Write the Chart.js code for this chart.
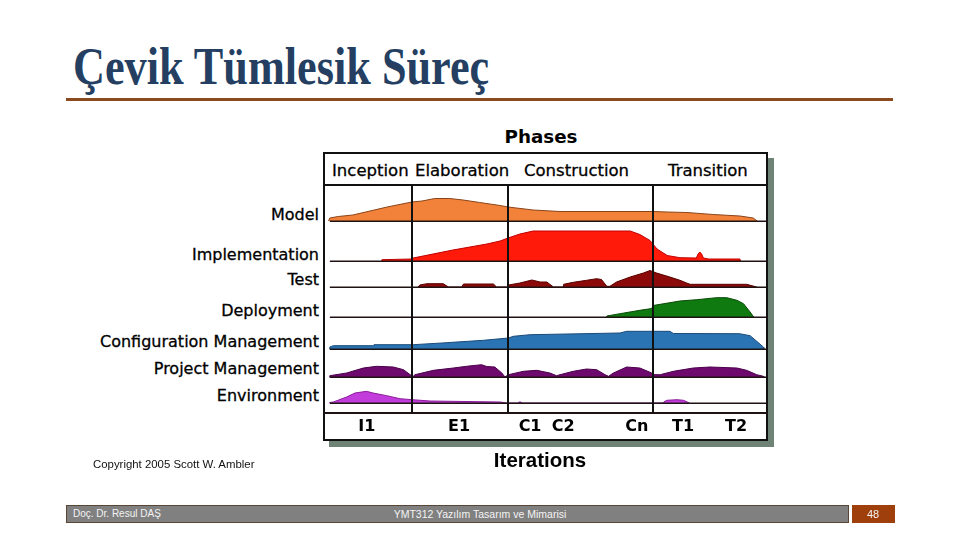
<!DOCTYPE html>
<html><head><meta charset="utf-8">
<script src="https://cdn.jsdelivr.net/npm/chart.js@4.4.0/dist/chart.umd.min.js"></script>
<style>
body{margin:0;background:#fff;}
#page{position:relative;width:960px;height:540px;overflow:hidden;background:#fff;font-family:"DejaVu Sans",sans-serif;color:#000;}
.t{position:absolute;white-space:nowrap;line-height:1;}
.lab{font-size:16px;right:641px;text-align:right;-webkit-text-stroke:0.3px #000;}
.ph{font-size:16.5px;top:163px;-webkit-text-stroke:0.3px #000;}
#frame{position:absolute;left:323px;top:152px;width:445px;height:289px;box-sizing:border-box;border:2px solid #111;background:#fff;box-shadow:6px 6px 0 #6e8276;}
#c{position:absolute;left:0;top:0;}
</style></head>
<body><div id="page">
<div class="t" id="title" style="left:73px;top:41px;font-family:'Liberation Serif',serif;font-weight:bold;font-size:52px;color:#243f62;transform-origin:0 0;">Çevik Tümlesik Süreç</div>
<div style="position:absolute;left:66px;top:98px;width:827px;height:3px;background:#8c4a1f;"></div>

<div id="frame"></div>
<div style="position:absolute;left:324px;top:184px;width:443px;height:2px;background:#111;"></div>
<div class="t" style="left:541px;top:128px;font-size:18.3px;font-weight:bold;transform:translateX(-50%);">Phases</div>
<div id="phaseRow"></div>
<div id="labelCol"></div>

<canvas id="c" width="960" height="540"></canvas>

<div class="t" style="left:540px;top:450px;font-family:'Liberation Sans',Arial,sans-serif;font-weight:bold;font-size:20.5px;transform:translateX(-50%);">Iterations</div>
<div class="t" style="left:93px;top:459px;font-family:'Liberation Sans',Arial,sans-serif;font-size:11.4px;color:#111;">Copyright 2005 Scott W. Ambler</div>

<div style="position:absolute;left:66px;top:505px;width:783px;height:18px;box-sizing:border-box;background:#808080;border:1px solid #5b4636;"></div>
<div class="t" style="left:73px;top:509px;font-family:'Liberation Sans',Arial,sans-serif;font-size:10px;color:#f4f4f4;">Doç. Dr. Resul DAŞ</div>
<div class="t" style="left:480px;top:509px;font-family:'Liberation Sans',Arial,sans-serif;font-size:10.5px;color:#f4f4f4;transform:translateX(-50%);">YMT312 Yazılım Tasarım ve Mimarisi</div>
<div style="position:absolute;left:852px;top:505px;width:43px;height:18px;background:#9f3f0b;"></div>
<div class="t" style="left:873px;top:509px;font-family:'Liberation Sans',Arial,sans-serif;font-size:11px;color:#f4f4f4;transform:translateX(-50%);">48</div>
</div>
<script>
// ---- data ----
const phases = ['Inception', 'Elaboration', 'Construction', 'Transition'];
const phaseBounds = [19.7, 41.5, 74.4];
const iterationLabels = ['I1', 'E1', 'C1', 'C2', 'Cn', 'T1', 'T2'];
const iterationPos = [9.5, 30.4, 46.5, 54.0, 70.7, 81.2, 93.2];
const disciplines = ['Model', 'Implementation', 'Test', 'Deployment', 'Configuration Management', 'Project Management', 'Environment'];

// [time, effort]
const model = [[0.8,0],[1.1,3],[3,4.5],[6.3,6],[14.1,14],[19.7,19],[22,20],[24.9,22.5],[28.3,22.5],[31.3,21],[35.1,18.5],[39.7,15.5],[41.5,14],[47.2,11],[53.3,9.5],[74.4,9.5],[77.6,9],[82.1,8.5],[88,6.5],[94.1,5],[97.1,3],[98,0]];
const implementation = [[12.8,0],[12.9,1.3],[19.7,2],[20,3],[29,11],[36.7,17],[39.7,20],[41.5,23],[44.2,27],[47.2,30],[69.2,30],[71.4,26.5],[73.7,20.5],[75.3,12],[77.6,5.5],[80.5,3.3],[84.2,3],[84.6,7],[85,9],[85.4,7],[85.8,3],[87,2],[94.1,2],[94.2,0]];
const test = [[21.1,0],[21.5,2],[23.1,3.3],[26.8,3.3],[28,0],[31,0],[31.4,3],[38.2,3],[38.9,0],[41.5,0],[41.6,2],[44.2,4],[46.9,7],[48.8,5],[50.3,5],[51.8,0],[54,0],[54.1,2.7],[56.3,4.7],[59.3,6.7],[61.6,8.3],[62.7,7.5],[63.9,0.7],[64.6,0.7],[66.1,5],[69.2,10],[72.2,14],[73.7,16.5],[75.2,14],[78.2,10],[80.5,6.7],[82,4],[82.8,2.7],[95.6,2.7],[97.9,0]];
const deployment = [[63.8,0],[63.9,1],[66.9,3.3],[71.4,6.7],[74.1,8.5],[74.4,11.5],[80.5,16],[84.3,17.3],[88.8,19.3],[91.1,19.3],[93.4,16.7],[94.9,13.3],[96.4,5],[97.1,0.7],[97.3,0]];
const configMgmt = [[1,0],[1.1,2],[1.9,3.3],[11,3.3],[11.1,4.3],[20,4.3],[26.5,6],[35.9,8.7],[41.6,11],[42.7,12.7],[46.5,14.3],[66.9,16],[68.4,17.7],[78.2,17.7],[79,15.5],[94,15.3],[96.4,13.3],[97.9,7.7],[99.4,2],[99.5,0]];
const projectMgmt = [[1,0],[1.1,1.3],[4.9,4],[8.7,9],[11.7,10.7],[15.5,10],[17.8,7.3],[19.3,2.3],[20,0.7],[20.4,2.3],[24.6,6.7],[29.1,9],[32.1,10.7],[35.5,12.3],[36.7,10.5],[38.5,10],[40.1,4],[40.8,0],[41.6,2.3],[45,5.7],[48,6.7],[51,4],[52.5,1.3],[53.3,2.3],[56.3,5.7],[59.3,8],[61.6,7.3],[63.5,2.3],[64.3,0.7],[65.4,4],[68.4,10],[71.4,9],[73.7,4.7],[74.8,2.3],[76,2.3],[79,5.7],[83.5,9],[87.3,10],[93.4,9],[95.6,6.7],[97.9,2.3],[99.4,0.7],[99.5,0]];
const environment = [[1,0],[1.1,0.5],[1.9,1],[4.9,6],[6.8,10],[9.4,11.7],[10.9,10],[14,7.3],[17,4.3],[19.8,3.3],[23.8,2],[39.7,1],[41.2,0],[43.7,0],[44,1],[44.4,1],[44.7,0],[76.6,0],[76.8,1],[77.5,2.7],[79.8,3.3],[81.3,2.7],[82.4,0.5],[82.5,0]];

// ---- layout / style ----
const series = [model, implementation, test, deployment, configMgmt, projectMgmt, environment];
const rowBase = [192, 152, 126, 96, 64, 36, 10];
const fills = ['#f2823a', '#ff1a0a', '#8c0a0a', '#0f7a0f', '#2b74b4', '#6e0a6e', '#c23cdb'];
const edges = ['#8a4418', '#c00000', '#5a0000', '#064906', '#1a4a7a', '#4a004a', '#8a1a9a'];
const phaseLeft = [332, 415, 524, 668];
const labelY = [215, 255, 280, 311, 342, 369, 396];

const phaseRow = document.getElementById('phaseRow');
phases.forEach((p, i) => {
  const d = document.createElement('div');
  d.className = 't ph'; d.style.left = phaseLeft[i] + 'px'; d.textContent = p;
  phaseRow.appendChild(d);
});
const labelCol = document.getElementById('labelCol');
disciplines.forEach((p, i) => {
  const d = document.createElement('div');
  d.className = 't lab'; d.style.top = (labelY[i] - 8) + 'px'; d.textContent = p;
  labelCol.appendChild(d);
});
// fit title width
const title = document.getElementById('title');
title.style.transform = 'scaleX(' + (416 / title.offsetWidth) + ')';

const overlay = {
  id: 'overlay',
  afterDatasetsDraw(chart) {
    const {ctx, chartArea: a, scales: {x, y}} = chart;
    ctx.save();
    ctx.strokeStyle = '#1e1212';
    ctx.lineWidth = 1.5;
    rowBase.forEach(b => {
      const py = Math.round(y.getPixelForValue(b)) + 0.25;
      ctx.beginPath(); ctx.moveTo(x.getPixelForValue(1.1), py); ctx.lineTo(a.right, py); ctx.stroke();
    });
    ctx.strokeStyle = '#111';
    ctx.lineWidth = 2;
    phaseBounds.forEach(p => {
      const px = Math.round(x.getPixelForValue(p));
      ctx.beginPath(); ctx.moveTo(px, a.top); ctx.lineTo(px, a.bottom); ctx.stroke();
    });
    ctx.restore();
  }
};

new Chart(document.getElementById('c'), {
  type: 'line',
  data: {
    datasets: series.map((s, i) => ({
      label: disciplines[i],
      data: s.map(([t, h]) => ({x: t, y: rowBase[i] + h})),
      fill: {value: rowBase[i]},
      backgroundColor: fills[i],
      borderColor: edges[i],
      borderWidth: 1,
      pointRadius: 0,
      tension: 0
    }))
  },
  options: {
    responsive: false,
    animation: false,
    events: [],
    layout: {padding: {left: 325, right: 194, top: 185, bottom: 100}},
    plugins: {legend: {display: false}, tooltip: {enabled: false}},
    scales: {
      x: {
        type: 'linear', min: 0, max: 100, position: 'bottom',
        afterFit(s) { s.height = 27; },
        afterBuildTicks(s) { s.ticks = iterationPos.map(v => ({value: v})); },
        grid: {display: false},
        border: {display: true, color: '#1e1212', width: 2},
        ticks: {
          autoSkip: false, maxRotation: 0, padding: -4, color: '#000',
          font: {family: 'DejaVu Sans', size: 16, weight: '600'},
          callback: (v, i) => iterationLabels[i]
        }
      },
      y: {type: 'linear', min: 0, max: 228, display: false}
    }
  },
  plugins: [overlay]
});
</script>
</body></html>
